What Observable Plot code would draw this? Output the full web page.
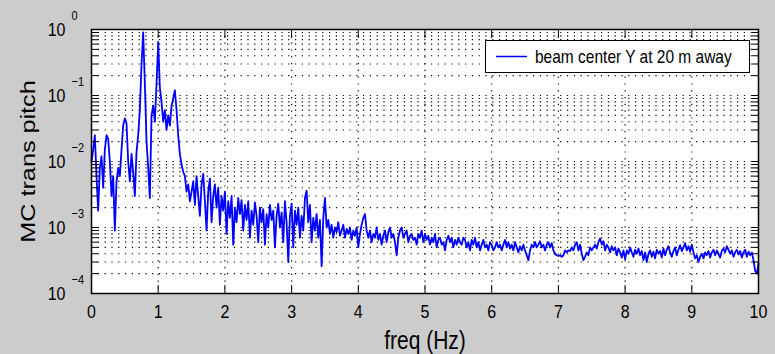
<!DOCTYPE html>
<html>
<head>
<meta charset="utf-8">
<script src="https://cdn.jsdelivr.net/npm/d3@7"></script>
<script src="https://cdn.jsdelivr.net/npm/@observablehq/plot@0.6"></script>
<style>
  html, body { margin: 0; padding: 0; background: #cccccc; }
  #wrap { position: relative; width: 775px; height: 354px; overflow: hidden; background: #cccccc;
          font-family: "Liberation Sans", Arial, Helvetica, sans-serif; }
  #wrap svg { display: block; }
  #legend { position: absolute; left: 485px; top: 40px; width: 263px; height: 31px;
            border: 1px solid #000; background: #fff; }
  #legend .txt { position: absolute; left: 49px; top: 0; line-height: 31px; font-size: 15.5px;
                 color: #000; white-space: nowrap; transform: scaleY(1.2); transform-origin: 0 50%; }
</style>
</head>
<body>
<div id="wrap"></div>
<script>
// ---------------- data ----------------
const freqStepHz = 0.025;   // frequency bin spacing (Hz), bins 0 .. 10 Hz
const power = [
  1.0e-2, 1.5e-2, 2.5e-2, 6e-3, 1.8e-3, 8e-3, 1.2e-2, 4e-3, 1.5e-2, 2.5e-2,
  2.2e-2, 1.0e-2, 3e-3, 6e-3, 9e-4, 5e-3, 8e-3, 6e-3, 1.5e-2, 3.5e-2,
  4.5e-2, 3.8e-2, 1.0e-2, 5e-3, 1.3e-2, 7e-3, 3e-3, 1.4e-2, 2.5e-2, 6e-2,
  3e-1, 9e-1, 1.5e-1, 2e-2, 8e-3, 2.8e-3, 5e-2, 7e-2, 4e-2, 1.5e-1,
  6.5e-1, 1.3e-1, 8e-2, 4e-2, 6e-2, 3e-2, 5e-2, 3.5e-2, 7e-2, 9e-2,
  1.2e-1, 6e-2, 2.5e-2, 1.3e-2, 9e-3, 7e-3, 6e-3, 3.5e-3, 4.5e-3, 2.5e-3,
  3.5e-3, 5e-3, 2.2e-3, 6e-3, 3e-3, 1.5e-3, 4.5e-3, 6.5e-3, 2.5e-3, 9e-4,
  3.5e-3, 5.5e-3, 1.2e-3, 3e-3, 4.5e-3, 2e-3, 4e-3, 1.1e-3, 3e-3, 1.8e-3,
  3.5e-3, 8e-4, 2.5e-3, 1.4e-3, 3e-3, 5.5e-4, 2e-3, 1.2e-3, 2.8e-3, 1.6e-3,
  2.6e-3, 9e-4, 2.2e-3, 1.3e-3, 2.5e-3, 7e-4, 1.8e-3, 1.1e-3, 2.4e-3, 1.5e-3,
  6e-4, 2e-3, 1.2e-3, 1.9e-3, 5.5e-4, 1.6e-3, 1.0e-3, 2.2e-3, 1.3e-3, 1.8e-3,
  5e-4, 1.5e-3, 2.3e-3, 1.0e-3, 1.7e-3, 6e-4, 2.5e-3, 1.2e-3, 3e-4, 1.5e-3,
  2.3e-3, 5e-4, 1.8e-3, 1.1e-3, 2e-3, 7e-4, 1.5e-3, 9e-4, 2.8e-3, 3.6e-3,
  1.2e-3, 2.2e-3, 6e-4, 1.4e-3, 9e-4, 1.6e-3, 7e-4, 1.3e-3, 2.6e-4, 1.4e-3,
  2.8e-3, 1.0e-3, 1.3e-3, 8e-4, 1.1e-3, 7e-4, 1.0e-3, 8.5e-4, 1.2e-3, 7.5e-4,
  9e-4, 1.1e-3, 7e-4, 9.5e-4, 8e-4, 1.0e-3, 6.5e-4, 9e-4, 7.5e-4, 1.0e-3,
  5e-4, 8e-4, 1.1e-3, 1.4e-3, 1.6e-3, 9e-4, 7e-4, 9e-4, 6e-4, 8e-4,
  7e-4, 1.0e-3, 6.5e-4, 8e-4, 5.5e-4, 7.5e-4, 9e-4, 6e-4, 8.5e-4, 1.0e-3,
  7e-4, 8e-4, 6e-4, 3.8e-4, 7e-4, 9e-4, 1.0e-3, 7e-4, 8e-4, 9e-4,
  6e-4, 7.5e-4, 8e-4, 6.5e-4, 7e-4, 5.5e-4, 8e-4, 7e-4, 9e-4, 6e-4,
  8e-4, 6.5e-4, 7.5e-4, 5.5e-4, 7e-4, 6e-4, 8e-4, 5e-4, 6.5e-4, 7e-4,
  5.5e-4, 6e-4, 4.5e-4, 6.5e-4, 7.5e-4, 6e-4, 7e-4, 5e-4, 6.5e-4, 5.5e-4,
  7e-4, 6e-4, 5.5e-4, 7e-4, 6.5e-4, 5e-4, 6e-4, 4.5e-4, 6.5e-4, 5.5e-4,
  7e-4, 5e-4, 6e-4, 4.5e-4, 5.5e-4, 6.5e-4, 5e-4, 5.5e-4, 4.5e-4, 6e-4,
  5.5e-4, 4.5e-4, 5e-4, 6e-4, 5e-4, 5.5e-4, 4.5e-4, 5.5e-4, 6.5e-4, 5e-4,
  6e-4, 4.8e-4, 5.5e-4, 4.5e-4, 6e-4, 5e-4, 4.2e-4, 5.2e-4, 4.5e-4, 5.5e-4,
  4.5e-4, 3.8e-4, 3.2e-4, 4.5e-4, 5.5e-4, 5e-4, 6e-4, 5e-4, 5.5e-4, 6.2e-4,
  5e-4, 5.5e-4, 4.5e-4, 5.5e-4, 6e-4, 5e-4, 5.8e-4, 4.5e-4, 4e-4, 3.8e-4,
  3.7e-4, 3.8e-4, 3.6e-4, 3.8e-4, 4.5e-4, 4.2e-4, 4.5e-4, 4.4e-4, 5e-4, 4.5e-4,
  5.5e-4, 6e-4, 4.5e-4, 5.5e-4, 4e-4, 3.2e-4, 3.6e-4, 4.2e-4, 3.8e-4, 5e-4,
  4.5e-4, 5e-4, 5.5e-4, 4.8e-4, 6e-4, 6.8e-4, 5.5e-4, 6.2e-4, 4.5e-4, 5.5e-4,
  5e-4, 4.2e-4, 5.2e-4, 4.5e-4, 5e-4, 3.8e-4, 4.8e-4, 4.2e-4, 3.5e-4, 4.5e-4,
  3.3e-4, 4.5e-4, 4e-4, 5e-4, 4.2e-4, 3.6e-4, 4.6e-4, 4e-4, 4.8e-4, 3.8e-4,
  4.4e-4, 3.2e-4, 4.2e-4, 3e-4, 4e-4, 4.5e-4, 3.6e-4, 4.3e-4, 3.4e-4, 4.6e-4,
  4e-4, 4.4e-4, 3.5e-4, 4.8e-4, 3.8e-4, 4.6e-4, 5.2e-4, 4.2e-4, 3.6e-4, 4.4e-4,
  5e-4, 3.8e-4, 4.6e-4, 5.4e-4, 4.4e-4, 5e-4, 5.8e-4, 4.5e-4, 5.2e-4, 4.3e-4,
  5.5e-4, 4.2e-4, 3.4e-4, 3.8e-4, 3e-4, 3.6e-4, 4e-4, 3.4e-4, 4.2e-4, 3.8e-4,
  4.4e-4, 3.5e-4, 4.2e-4, 4.6e-4, 3.8e-4, 4.5e-4, 4e-4, 3.5e-4, 4.4e-4, 4.8e-4,
  4.2e-4, 5.2e-4, 4.6e-4, 4e-4, 4.5e-4, 3.6e-4, 4.2e-4, 4.6e-4, 3.9e-4, 4.4e-4,
  3.5e-4, 4.2e-4, 4.6e-4, 3.6e-4, 4.3e-4, 3.8e-4, 4.2e-4, 3.2e-4, 2.2e-4, 2e-4,
  2.8e-4
];
const xTicks = [0, 1, 2, 3, 4, 5, 6, 7, 8, 9, 10];
const xTickLabels = ["0", "1", "2", "3", "4", "5", "6", "7", "8", "9", "10"];
const xGrid = [1, 2, 3, 4, 5, 6, 7, 8, 9];
const yMajor = [1e-4, 1e-3, 1e-2, 1e-1, 1];
const yExponents = ["\u22124", "\u22123", "\u22122", "\u22121", "0"];
const yMinorMultipliers = [1, 2, 3, 4, 5, 6, 7, 8, 9];
const xTitle = "freq (Hz)";
const yTitle = "MC trans pitch";
const legendLabels = ["beam center Y at 20 m away"];

// ---------------- build ----------------
const spectrum = power.map((p, i) => ({freq: i * freqStepHz, power: p}));
const yGrid = yMajor.slice(0, -1).flatMap(d => yMinorMultipliers.map(m => d * m)).concat([1]);

const chart = Plot.plot({
  width: 775,
  height: 354,
  marginLeft: 91,
  marginRight: 17,
  marginTop: 29,
  marginBottom: 61,
  style: {background: "transparent", color: "#000", fontFamily: "'Liberation Sans', Arial, Helvetica, sans-serif", overflow: "visible"},
  x: {domain: [0, 10]},
  y: {type: "log", domain: [1e-4, 1]},
  marks: [
    Plot.frame({fill: "white", stroke: null}),
    Plot.ruleX(xGrid, {x: d => d, stroke: "#000", strokeWidth: 1.2, strokeDasharray: "1.2,5.6"}),
    Plot.ruleY(yGrid, {y: d => d, stroke: "#000", strokeWidth: 1.2, strokeDasharray: "1.2,5.6"}),
    Plot.line(spectrum, {x: "freq", y: "power", stroke: "#0000ff", strokeWidth: 1.8}),
    Plot.frame({stroke: "#000", strokeWidth: 1.5}),
    Plot.axisX(xTicks, {anchor: "bottom", tickSize: -8, fill: "none", stroke: "#000", label: null}),
    Plot.axisX(xTicks, {anchor: "top", tickSize: -8, fill: "none", stroke: "#000", label: null}),
    Plot.axisY(yGrid, {anchor: "left", tickSize: -7, fill: "none", stroke: "#000", label: null}),
    Plot.axisY(yGrid, {anchor: "right", tickSize: -7, fill: "none", stroke: "#000", label: null}),
    Plot.text(xTicks, {x: d => d, frameAnchor: "bottom", dy: 18, lineAnchor: "middle", textAnchor: "middle", text: (d, i) => xTickLabels[i], fontSize: 16, fill: "#000"}),
    Plot.text(yMajor, {y: d => d, frameAnchor: "left", dx: -26, lineAnchor: "middle", textAnchor: "end", text: () => "10", fontSize: 16, fill: "#000"}),
    Plot.text(yMajor, {y: d => d, frameAnchor: "left", dx: -20, dy: -14, lineAnchor: "middle", textAnchor: "start", text: (d, i) => yExponents[i], fontSize: 11, fill: "#000"}),
    Plot.text([xTitle], {frameAnchor: "bottom", dy: 47, lineAnchor: "middle", textAnchor: "middle", text: d => d, fontSize: 21, fill: "#000"}),
    Plot.text([yTitle], {frameAnchor: "left", dx: -63, rotate: -90, lineAnchor: "middle", textAnchor: "middle", text: d => d, fontSize: 21, fill: "#000"})
  ]
});

const wrap = document.getElementById("wrap");
wrap.appendChild(chart);

// vertical stretch of the glyphs about each text's own centre, like the reference rendering
const STRETCH = 1.2;
const NS = "http://www.w3.org/2000/svg";
const svgRoot = chart.tagName.toLowerCase() === "svg" ? chart : chart.querySelector("svg");
Array.from(chart.querySelectorAll("text")).forEach(t => {
  try {
    const r = t.getBoundingClientRect();
    if (!r.width && !r.height) return;
    const parent = t.parentNode;
    const m = parent.getScreenCTM().inverse();
    const pt = svgRoot.createSVGPoint();
    pt.x = r.left + r.width / 2;
    pt.y = r.top + r.height / 2;
    const p = pt.matrixTransform(m);
    const g = document.createElementNS(NS, "g");
    g.setAttribute("transform", `translate(${p.x},${p.y}) scale(1,${STRETCH}) translate(${-p.x},${-p.y})`);
    parent.insertBefore(g, t);
    g.appendChild(t);
  } catch (e) { /* leave the text unchanged */ }
});

// legend (inside the axes, top right)
const legend = document.createElement("div");
legend.id = "legend";
legendLabels.forEach(label => {
  const s = document.createElementNS(NS, "svg");
  s.setAttribute("width", "45");
  s.setAttribute("height", "31");
  s.style.position = "absolute";
  s.style.left = "0";
  s.style.top = "0";
  const ln = document.createElementNS(NS, "line");
  ln.setAttribute("x1", "10"); ln.setAttribute("x2", "41");
  ln.setAttribute("y1", "15.5"); ln.setAttribute("y2", "15.5");
  ln.setAttribute("stroke", "#0000ff"); ln.setAttribute("stroke-width", "1.5");
  s.appendChild(ln);
  legend.appendChild(s);
  const sp = document.createElement("span");
  sp.className = "txt";
  sp.textContent = label;
  legend.appendChild(sp);
});
wrap.appendChild(legend);
</script>
</body>
</html>
